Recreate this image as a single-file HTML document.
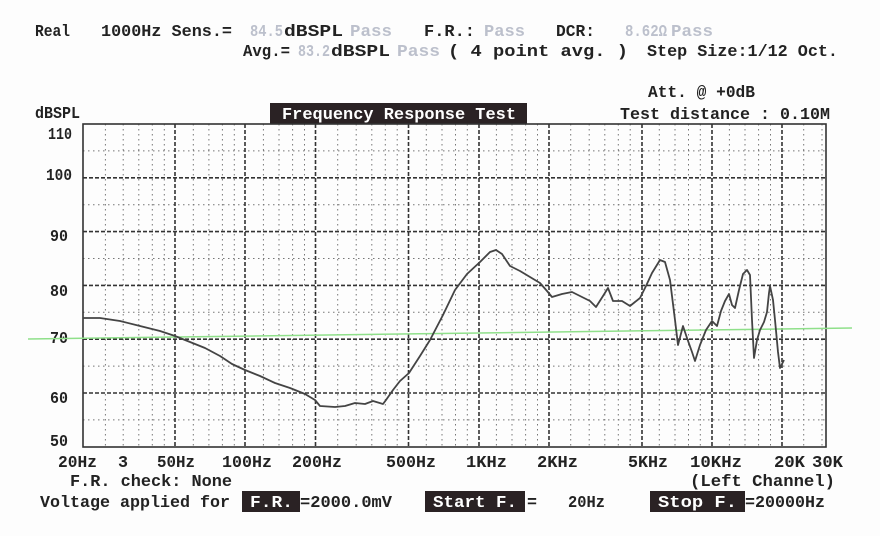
<!DOCTYPE html>
<html><head><meta charset="utf-8"><style>
html,body{margin:0;padding:0;background:#fdfdfd;}
svg{display:block;}
text{font-family:"Liberation Mono",monospace;font-weight:bold;font-size:17px;fill:#222;}
.g{fill:#bcc0cc;}
.w{fill:#fff;}
</style></head><body>
<svg width="880" height="536" viewBox="0 0 880 536" xmlns="http://www.w3.org/2000/svg">
<rect width="880" height="536" fill="#fdfdfd"/>
<text x="35" y="36" textLength="35" lengthAdjust="spacingAndGlyphs">Real</text>
<text x="101" y="36" textLength="131" lengthAdjust="spacingAndGlyphs">1000Hz Sens.=</text>
<text class="g" x="250" y="36" textLength="33" lengthAdjust="spacingAndGlyphs">84.5</text>
<text x="284" y="36" textLength="59" lengthAdjust="spacingAndGlyphs">dBSPL</text>
<text class="g" x="350" y="36" textLength="42" lengthAdjust="spacingAndGlyphs">Pass</text>
<text x="424" y="36" textLength="51" lengthAdjust="spacingAndGlyphs">F.R.:</text>
<text class="g" x="484" y="36" textLength="41" lengthAdjust="spacingAndGlyphs">Pass</text>
<text x="556" y="36" textLength="39" lengthAdjust="spacingAndGlyphs">DCR:</text>
<text class="g" x="625" y="36" textLength="42" lengthAdjust="spacingAndGlyphs">8.62Ω</text>
<text class="g" x="671" y="36" textLength="42" lengthAdjust="spacingAndGlyphs">Pass</text>
<text x="243" y="56" textLength="47" lengthAdjust="spacingAndGlyphs">Avg.=</text>
<text class="g" x="298" y="56" textLength="32" lengthAdjust="spacingAndGlyphs">83.2</text>
<text x="331" y="56" textLength="59" lengthAdjust="spacingAndGlyphs">dBSPL</text>
<text class="g" x="397" y="56" textLength="43" lengthAdjust="spacingAndGlyphs">Pass</text>
<text x="448" y="56" textLength="180" lengthAdjust="spacingAndGlyphs">( 4 point avg.  )</text>
<text x="647" y="56" textLength="191" lengthAdjust="spacingAndGlyphs">Step Size:1/12 Oct.</text>
<text x="648" y="97" textLength="107" lengthAdjust="spacingAndGlyphs">Att. @  +0dB</text>
<text x="35" y="118" textLength="45" lengthAdjust="spacingAndGlyphs">dBSPL</text>
<rect x="270" y="103" width="257" height="21" fill="#2a2224"/>
<text class="w" x="282" y="119" textLength="234" lengthAdjust="spacingAndGlyphs">Frequency Response Test</text>
<text x="620" y="119" textLength="210" lengthAdjust="spacingAndGlyphs">Test distance : 0.10M</text>
<text x="48" y="139" textLength="24" lengthAdjust="spacingAndGlyphs">110</text>
<text x="46" y="180" textLength="26" lengthAdjust="spacingAndGlyphs">100</text>
<text x="50" y="241" textLength="18" lengthAdjust="spacingAndGlyphs">90</text>
<text x="50" y="296" textLength="18" lengthAdjust="spacingAndGlyphs">80</text>
<text x="50" y="343" textLength="18" lengthAdjust="spacingAndGlyphs">70</text>
<text x="50" y="403" textLength="18" lengthAdjust="spacingAndGlyphs">60</text>
<text x="50" y="446" textLength="18" lengthAdjust="spacingAndGlyphs">50</text>
<g stroke="#555" stroke-width="1" stroke-dasharray="1.5,3.5" fill="none" opacity="0.8">
<path d="M83 150.9H826M83 204.7H826M83 258.5H826M83 312.3H826M83 366.1H826M83 419.9H826"/>
<path d="M105.4 124V447M123.2 124V447M138.8 124V447M152.3 124V447M164.3 124V447M193.3 124V447M208.9 124V447M222.4 124V447M234.3 124V447M263.4 124V447M279 124V447M292.6 124V447M304.5 124V447M337.7 124V447M356.2 124V447M371.8 124V447M385.3 124V447M397.2 124V447M426.3 124V447M442 124V447M455.5 124V447M467.3 124V447M496.4 124V447M512 124V447M525.6 124V447M537.5 124V447M570.7 124V447M589.2 124V447M604.8 124V447M618.3 124V447M630.2 124V447M659.3 124V447M675 124V447M688.5 124V447M700.3 124V447M729.4 124V447M745 124V447M758.6 124V447M770.5 124V447M803.7 124V447M822 124V447"/>
</g>
<g stroke="#333" stroke-width="1.6" stroke-dasharray="4,2" fill="none">
<path d="M83 177.8H826M83 231.6H826M83 285.4H826M83 339.2H826M83 393H826"/>
<path d="M175 124V447M245 124V447M315.5 124V447M408.5 124V447M479 124V447M549 124V447M642 124V447M712 124V447M782 124V447"/>
</g>
<rect x="83" y="124" width="743" height="323" fill="none" stroke="#333" stroke-width="1.6"/>
<line x1="28" y1="339" x2="852" y2="328" stroke="#8fe08a" stroke-width="1.5"/>
<polyline fill="none" stroke="#444" stroke-width="1.8" stroke-linejoin="round" points="83,318 100,318 120,321 140,326 160,331 175,336 190,342 205,348 220,356 232,364 245,370 260,376 275,383 290,388 305,394 315,400 320,406 335,407 345,406 355,403 365,404 373,401 383,404 386,400 393,390 400,381 409,373 420,356 430,340 443,315 455,290 467,274 480,262 490,252 496,250 502,254 510,266 520,271 530,277 540,283 547,291 552,297 562,294 572,292 582,297 590,301 596,307 603,296 608,288 613,301 622,301 630,306 640,298 646,286 652,273 660,260 665,262 670,280 675,320 678,345 683,326 687,338 692,352 695,361 700,345 706,330 712,321 717,326 721,311 725,301 729,294 732,305 735,308 739,290 743,274 747,270 750,275 752,320 754,358 757,340 760,330 764,322 767,312 769,293 770,286 773,300 775,320 778,352 780,368 784,360"/>
<text x="58" y="467" textLength="39" lengthAdjust="spacingAndGlyphs">20Hz</text>
<text x="118" y="467" textLength="10" lengthAdjust="spacingAndGlyphs">3</text>
<text x="157" y="467" textLength="38" lengthAdjust="spacingAndGlyphs">50Hz</text>
<text x="222" y="467" textLength="50" lengthAdjust="spacingAndGlyphs">100Hz</text>
<text x="292" y="467" textLength="50" lengthAdjust="spacingAndGlyphs">200Hz</text>
<text x="386" y="467" textLength="50" lengthAdjust="spacingAndGlyphs">500Hz</text>
<text x="466" y="467" textLength="41" lengthAdjust="spacingAndGlyphs">1KHz</text>
<text x="537" y="467" textLength="41" lengthAdjust="spacingAndGlyphs">2KHz</text>
<text x="628" y="467" textLength="40" lengthAdjust="spacingAndGlyphs">5KHz</text>
<text x="690" y="467" textLength="52" lengthAdjust="spacingAndGlyphs">10KHz</text>
<text x="774" y="467" textLength="31" lengthAdjust="spacingAndGlyphs">20K</text>
<text x="812" y="467" textLength="31" lengthAdjust="spacingAndGlyphs">30K</text>
<text x="70" y="486" textLength="162" lengthAdjust="spacingAndGlyphs">F.R. check: None</text>
<text x="690" y="486" textLength="145" lengthAdjust="spacingAndGlyphs">(Left Channel)</text>
<text x="40" y="507" textLength="190" lengthAdjust="spacingAndGlyphs">Voltage applied for</text>
<rect x="242" y="491" width="58" height="21" fill="#2a2224"/>
<text class="w" x="250" y="507" textLength="43" lengthAdjust="spacingAndGlyphs">F.R.</text>
<text x="300" y="507" textLength="92" lengthAdjust="spacingAndGlyphs">=2000.0mV</text>
<rect x="425" y="491" width="100" height="21" fill="#2a2224"/>
<text class="w" x="433" y="507" textLength="84" lengthAdjust="spacingAndGlyphs">Start F.</text>
<text x="527" y="507" textLength="10" lengthAdjust="spacingAndGlyphs">=</text>
<text x="568" y="507" textLength="37" lengthAdjust="spacingAndGlyphs">20Hz</text>
<rect x="650" y="491" width="95" height="21" fill="#2a2224"/>
<text class="w" x="658" y="507" textLength="79" lengthAdjust="spacingAndGlyphs">Stop F.</text>
<text x="745" y="507" textLength="80" lengthAdjust="spacingAndGlyphs">=20000Hz</text>
</svg>
</body></html>
